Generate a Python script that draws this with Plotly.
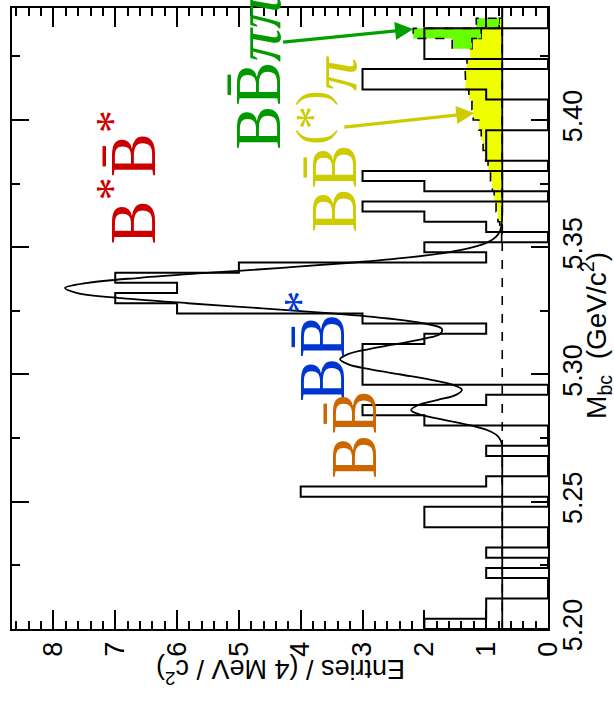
import numpy as np
import plotly.graph_objects as go

# ---- data -------------------------------------------------------------
# Mbc histogram: 61 bins of 4 MeV/c^2 starting at 5.200 GeV/c^2
mbc_low = 5.200
bin_width = 0.004
counts = [2, 1, 1, 0, 0, 1, 0, 1, 0, 0,
          2, 2, 0, 4, 1, 0, 0, 1, 0, 0,
          2, 3, 1, 0, 3, 3, 3, 3, 2, 1,
          3, 6, 7, 6, 7, 5, 1, 2, 0, 1,
          2, 3, 0, 2, 3, 0, 1, 1, 1, 0,
          0, 0, 1, 3, 3, 0, 2, 2, 2, 0, 0]

# flat combinatorial background level (entries / bin)
background = 0.74

# B Bbar(*) pi component per bin (above background)
bbstar_pi = [0] * 38 + [0.01, 0.04, 0.07, 0.10, 0.13, 0.16, 0.19, 0.23, 0.27, 0.31,
                        0.34, 0.38, 0.47, 0.49, 0.54, 0.59, 0.60, 0.57, 0.52, 0.49,
                        0.34, 0.05] + [0]
# B Bbar pi pi component per bin (stacked on top of the previous one)
bb_pipi = [0] * 57 + [0.32, 1.10, 0.37] + [0]

# fitted curve (background + B Bbar, B Bbar*, B* Bbar* peaks)
fit_mbc = [5.200, 5.230, 5.255, 5.266, 5.270, 5.272, 5.274, 5.276, 5.278, 5.280,
           5.282, 5.284, 5.286, 5.288, 5.290, 5.292, 5.294, 5.296, 5.298, 5.300,
           5.302, 5.304, 5.306, 5.308, 5.310, 5.312, 5.314, 5.316, 5.318, 5.320,
           5.322, 5.324, 5.326, 5.328, 5.330, 5.332, 5.334, 5.336, 5.338, 5.340,
           5.342, 5.344, 5.346, 5.348, 5.350, 5.352, 5.354, 5.356, 5.358, 5.360,
           5.364, 5.390, 5.420, 5.444]
fit_entries = [0.740, 0.740, 0.740, 0.740, 0.741, 0.745, 0.763, 0.821, 0.968, 1.249,
               1.646, 2.033, 2.214, 2.097, 1.783, 1.488, 1.392, 1.545, 1.907, 2.387,
               2.868, 3.228, 3.363, 3.235, 2.891, 2.439, 2.016, 1.742, 1.719, 1.987,
               2.585, 3.489, 4.620, 5.828, 6.895, 7.614, 7.813, 7.446, 6.602, 5.462,
               4.245, 3.140, 2.252, 1.618, 1.211, 0.972, 0.846, 0.784, 0.757, 0.746,
               0.740, 0.740, 0.740, 0.740]

entries_max = 8.67
mbc_high = mbc_low + bin_width * len(counts)

# ---- helpers ----------------------------------------------------------
edges = mbc_low + bin_width * np.arange(len(counts) + 1)


def step_path(values, first, last):
    """Step outline (value vs. Mbc) over bins first..last inclusive."""
    xs, ys = [], []
    for k in range(first, last + 1):
        xs += [values[k], values[k]]
        ys += [edges[k], edges[k + 1]]
    return xs, ys


fig = go.Figure()

# stacked templates
yellow_top = [background + v for v in bbstar_pi]
green_top = [yellow_top[k] + bb_pipi[k] for k in range(len(counts))]

yx, yy = step_path(yellow_top, 38, 59)
fig.add_trace(go.Scatter(
    x=yx + [background, background], y=yy + [edges[60], edges[38]],
    mode="lines", fill="toself", fillcolor="#F0FF00",
    line=dict(color="black", width=1.6, dash="dash"), hoverinfo="skip"))

gx_up, gy_up = step_path(green_top, 57, 59)
gx_lo, gy_lo = step_path(yellow_top, 57, 59)
fig.add_trace(go.Scatter(
    x=gx_up + gx_lo[::-1], y=gy_up + gy_lo[::-1],
    mode="lines", fill="toself", fillcolor="#66FF00",
    line=dict(color="black", width=1.6, dash="dash"), hoverinfo="skip"))

# background level
fig.add_trace(go.Scatter(
    x=[background, background], y=[mbc_low, mbc_high], mode="lines",
    line=dict(color="black", width=1.6, dash="dash"), hoverinfo="skip"))

# data histogram outline
hx, hy = step_path(counts, 0, len(counts) - 1)
fig.add_trace(go.Scatter(
    x=[0] + hx + [0], y=[edges[0]] + hy + [edges[-1]], mode="lines",
    line=dict(color="black", width=2), hoverinfo="skip"))

# fit
fig.add_trace(go.Scatter(
    x=fit_entries, y=fit_mbc, mode="lines", line_shape="spline",
    line=dict(color="black", width=1.8), hoverinfo="skip"))

# ---- layout -------------------------------------------------------------
W, H = 614, 701
L, R, T, B = 12, 66, 6, 72
pw, ph = W - L - R, H - T - B


def px(x, y):
    """pixel position -> paper coordinates"""
    return (x - L) / pw, (H - B - y) / ph


serif = "Liberation Serif"
sans = "Liberation Sans"
annotations = []


def label(text, cx, cy, color, size=66):
    x, y = px(cx, cy)
    annotations.append(dict(
        text=text, x=x, y=y, xref="paper", yref="paper",
        xanchor="center", yanchor="middle", textangle=-90, showarrow=False,
        font=dict(family=serif, size=size, color=color)))


label("B<sup>*</sup>B\u0304<sup>*</sup>", 128, 176, "#CC0000")
label("BB\u0304<sup>*</sup>", 317, 346, "#0036D0")
label("BB\u0304", 354, 434, "#CC6600")
label("BB\u0304<i>\u03c0\u03c0</i>", 258, 70, "#009900")
label("BB\u0304<sup>(*)</sup><i>\u03c0</i>", 329, 143, "#CCCC00")

# arrows pointing at the two templates
annotations.append(dict(
    x=2.18, y=5.4357, ax=4.31, ay=5.4305, xref="x", yref="y", axref="x", ayref="y",
    text="", showarrow=True, arrowhead=2, arrowsize=1.1, arrowwidth=3.3,
    arrowcolor="#00A000", standoff=0))
annotations.append(dict(
    x=1.19, y=5.4027, ax=3.32, ay=5.3971, xref="x", yref="y", axref="x", ayref="y",
    text="", showarrow=True, arrowhead=2, arrowsize=1.1, arrowwidth=3.3,
    arrowcolor="#CCCC00", standoff=0))

# axis titles (rotated with the rest of the figure)
tx, ty = px(281, 672)
annotations.append(dict(
    text="Entries / (4 MeV / c<sup>2</sup>)", x=tx, y=ty, xref="paper", yref="paper",
    xanchor="center", yanchor="middle", textangle=180, showarrow=False,
    font=dict(family=sans, size=27, color="black")))
mx, my = px(596, 335)
annotations.append(dict(
    text="M<sub>bc</sub>  (GeV/c<sup>2</sup>)", x=mx, y=my, xref="paper", yref="paper",
    xanchor="center", yanchor="middle", textangle=-90, showarrow=False,
    font=dict(family=sans, size=28, color="black")))

fig.update_layout(
    width=W, height=H, margin=dict(l=L, r=R, t=T, b=B),
    paper_bgcolor="white", plot_bgcolor="white", showlegend=False,
    annotations=annotations,
    xaxis=dict(
        range=[entries_max, 0], tick0=0, dtick=1, tickformat="d",
        ticks="inside", ticklen=19, tickwidth=1.5, tickcolor="black",
        minor=dict(dtick=0.2, ticks="inside", ticklen=8, tickwidth=1.5, tickcolor="black"),
        showline=True, linewidth=2, linecolor="black", mirror="ticks",
        showgrid=False, zeroline=False, tickangle=-90,
        tickfont=dict(family=sans, size=27, color="black")),
    yaxis=dict(
        side="right", range=[mbc_low, mbc_high], tick0=5.2, dtick=0.05, tickformat=".2f",
        ticks="inside", ticklen=17, tickwidth=1.5, tickcolor="black",
        minor=dict(dtick=0.025, tick0=5.2, ticks="inside", ticklen=8, tickwidth=1.5,
                   tickcolor="black"),
        showline=True, linewidth=2, linecolor="black", mirror="ticks",
        showgrid=False, zeroline=False, tickangle=-90,
        tickfont=dict(family=sans, size=27, color="black")),
)

fig.write_html("out.html")
